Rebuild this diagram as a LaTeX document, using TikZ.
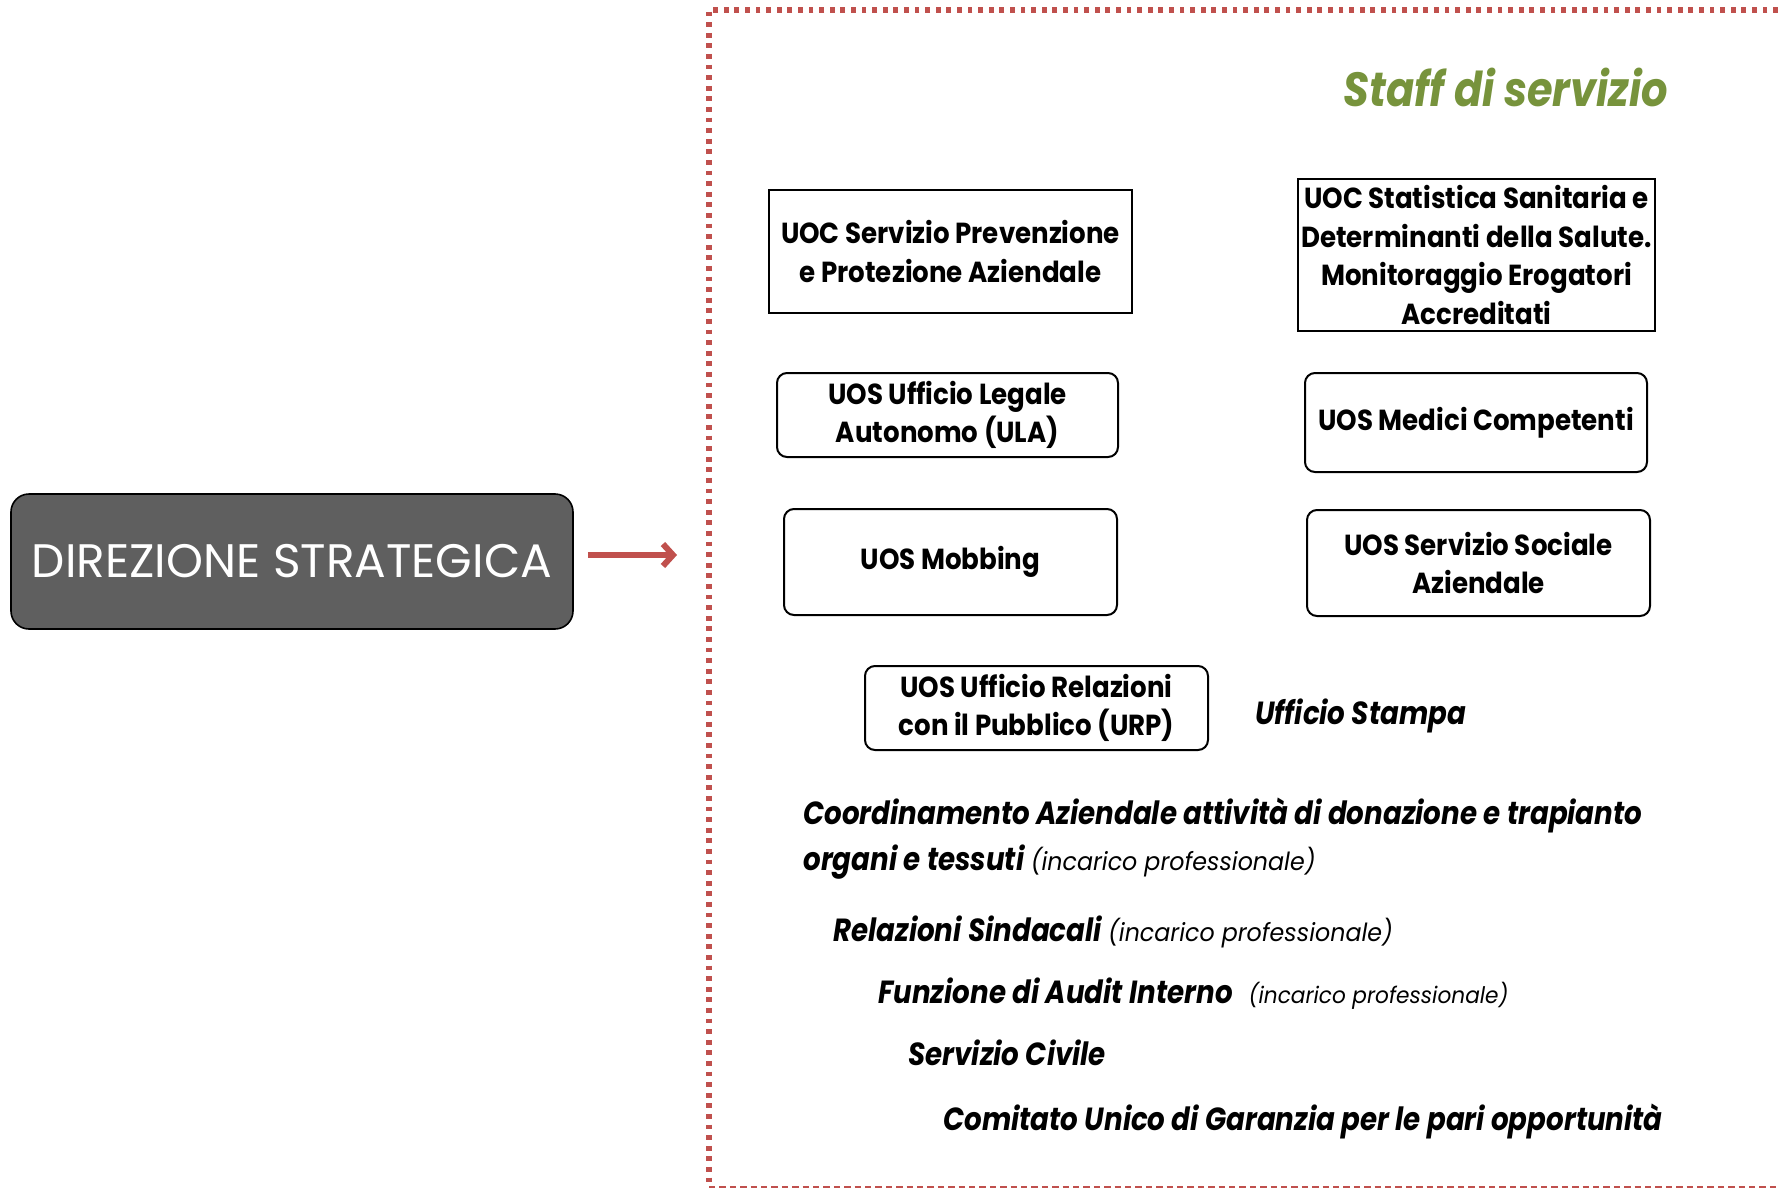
\documentclass[tikz,border=0pt]{standalone}
\usepackage{fontspec}
\usepackage{tikz}
\usetikzlibrary{arrows.meta}
\setmainfont{Poppins}
\newfontfamily\condfont[FakeStretch=0.9]{Poppins}
\newfontfamily\staffont[FakeStretch=0.865]{Poppins}
\newfontfamily\notefont[FakeStretch=0.95]{Poppins}
\definecolor{staffred}{RGB}{192,80,77}
\definecolor{staffgreen}{RGB}{119,147,60}
\definecolor{dirgray}{RGB}{95,95,95}
\tikzstyle{unit}=[draw, line width=1pt, align=center, inner sep=0pt, font=\condfont\bfseries\fontsize{14.5}{19.25}\selectfont]
\tikzstyle{uoc}=[unit]
\tikzstyle{uos}=[unit, rounded corners=5pt]
\tikzstyle{staff}=[anchor=west, inner sep=0pt, align=left, font=\staffont\bfseries\itshape\fontsize{16}{23.25}\selectfont]
\newcommand{\incarico}[1][12.5]{{\notefont\mdseries\itshape\fontsize{#1}{14}\selectfont(incarico professionale)}}

\begin{document}
\begin{tikzpicture}[x=0.5pt, y=-0.5pt]
        \useasboundingbox (0, 0) rectangle (1778, 1188);
        % direzione
        \node[draw, line width=0.8pt, fill=dirgray, rounded corners=9pt, inner sep=0pt, minimum width=281pt, minimum height=67.5pt,
              text=white, font=\fontsize{23.5}{28}\selectfont] (dir) at (292, 561.5) {DIREZIONE STRATEGICA};
        \coordinate (arrtip) at (677, 555);
        \draw[staffred, line width=3pt, shorten <=7pt, -{Straight Barb[length=5pt, width=11pt]}] (dir.east |- arrtip) -- (arrtip);
        % area di staff
        \draw[staffred, line width=2.6pt, dash pattern=on 2.4pt off 2.9pt] (1778, 10) -- (709, 10) -- (709, 1187);
        \draw[staffred, line width=0.7pt, dash pattern=on 3.2pt off 2pt] (709, 1187) -- (1778, 1187);
        \node[text=staffgreen, inner sep=0pt, font=\staffont\bfseries\itshape\fontsize{24}{30}\selectfont] (title) at (1506, 87) {Staff di servizio};

        \node[uoc, minimum width=181.5pt, minimum height=61.5pt] (prev) at (950.5, 251.5) {UOC Servizio Prevenzione\\e Protezione Aziendale};
        \node[uoc, minimum width=178.5pt, minimum height=76pt] (stat) at (1476.5, 255) {UOC Statistica Sanitaria e\\Determinanti della Salute.\\Monitoraggio Erogatori\\Accreditati};
        \node[uos, minimum width=170.5pt, minimum height=42pt] (ula) at (947.5, 415) {UOS Ufficio Legale\\Autonomo (ULA)};
        \node[uos, minimum width=171pt, minimum height=49.5pt] (medici) at (1476, 422.5) {UOS Medici Competenti};
        \node[uos, minimum width=166.5pt, minimum height=53pt] (mobbing) at (950.5, 562) {UOS Mobbing};
        \node[uos, minimum width=171.5pt, minimum height=53pt] (sociale) at (1478.5, 563) {UOS Servizio Sociale\\Aziendale};
        \node[uos, minimum width=171.5pt, minimum height=42pt] (urp) at (1036.5, 708) {UOS Ufficio Relazioni\\con il Pubblico (URP)};
        \node[staff] (stampa) at (1255, 716) {Ufficio Stampa};

        \node[staff] (trapianti) at (803, 838.5) {Coordinamento Aziendale attività di donazione e trapianto\\organi e tessuti \incarico};
        \node[staff] (sindacali) at (833, 932) {Relazioni Sindacali \incarico};
        \node[staff] (audit) at (878, 994) {Funzione di Audit Interno\enspace\incarico[11.4]};
        \node[staff] (civile) at (908, 1053) {Servizio Civile};
        \node[staff] (cug) at (943, 1121) {Comitato Unico di Garanzia per le pari opportunità};
    \end{tikzpicture}
\end{document}
